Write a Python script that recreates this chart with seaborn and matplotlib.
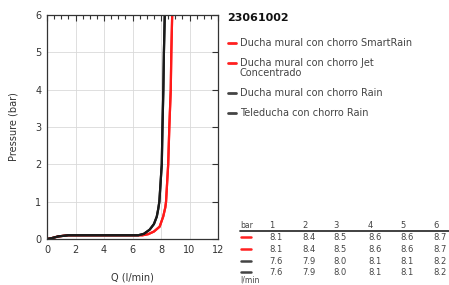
import matplotlib
matplotlib.use("Agg")
import matplotlib.pyplot as plt
from matplotlib.lines import Line2D
from matplotlib.ticker import MultipleLocator
import pandas as pd
import seaborn as sns

# Curvas (Q en l/min, presión en bar).
q_red = [0.0, 0.3, 0.8, 1.5, 6.7, 7.1, 7.5, 7.9, 8.15, 8.3, 8.35, 8.5, 8.58, 8.68, 8.72, 8.78]
p_red = [0.0, 0.02, 0.07, 0.1, 0.1, 0.13, 0.2, 0.33, 0.6, 0.85, 1.0, 2.0, 3.0, 4.0, 5.0, 6.0]
q_black = [0.0, 0.3, 0.8, 1.5, 6.4, 6.8, 7.2, 7.5, 7.7, 7.8, 7.88, 8.05, 8.1, 8.16, 8.2, 8.26]
p_black = [0.0, 0.02, 0.07, 0.1, 0.1, 0.14, 0.25, 0.4, 0.6, 0.8, 1.0, 2.0, 3.0, 4.0, 5.0, 6.0]

series_names = [
    "Ducha mural con chorro SmartRain",
    "Ducha mural con chorro Jet\nConcentrado",
    "Ducha mural con chorro Rain",
    "Teleducha con chorro Rain",
]
series_colors = ["#ff1a1a", "#ff1a1a", "#1a1a1a", "#1a1a1a"]
handle_colors = ["#ff2020", "#ff2020", "#444444", "#444444"]
series_q = [q_red, q_red, q_black, q_black]
series_p = [p_red, p_red, p_black, p_black]

title_code = "23061002"

# Tabla de caudales por presión.
table_bars = ["1", "2", "3", "4", "5", "6"]
table_values = [
    ["8.1", "8.4", "8.5", "8.6", "8.6", "8.7"],
    ["8.1", "8.4", "8.5", "8.6", "8.6", "8.7"],
    ["7.6", "7.9", "8.0", "8.1", "8.1", "8.2"],
    ["7.6", "7.9", "8.0", "8.1", "8.1", "8.2"],
]

frames = []
for nombre, q, p in zip(series_names, series_q, series_p):
    frames.append(pd.DataFrame({"Q": q, "P": p, "serie": nombre}))
df = pd.concat(frames, ignore_index=True)

sns.set_style("white")
plt.rcParams["font.family"] = ["DejaVu Sans"]

fig = plt.figure(figsize=(4.49, 2.85), dpi=100)
ax = fig.add_axes([0.1047, 0.1614, 0.381, 0.7856])

palette = dict(zip(series_names, series_colors))
sns.lineplot(data=df, x="Q", y="P", hue="serie", palette=palette,
             sort=False, estimator=None, linewidth=1.6, ax=ax, legend=False)

ax.set_xlim(0, 12)
ax.set_ylim(0, 6)
ax.xaxis.set_major_locator(MultipleLocator(2))
ax.xaxis.set_minor_locator(MultipleLocator(0.5))
ax.yaxis.set_major_locator(MultipleLocator(1))
ax.grid(True, which="major", color="#d9d9d9", linewidth=0.6)
ax.tick_params(which="both", direction="in", top=True, right=True,
               labelsize=7, colors="#333333", pad=4)
ax.tick_params(which="major", length=4, width=0.8)
ax.tick_params(which="minor", length=3, width=0.8)
for s in ax.spines.values():
    s.set_color("#333333")
    s.set_linewidth(0.9)
ax.set_xlabel("Q (l/min)", fontsize=7, color="#333333", labelpad=13)
ax.set_ylabel("Pressure (bar)", fontsize=7, color="#333333", labelpad=12)

# Leyenda a la derecha (manual)
fig.text(0.506, 0.9368, title_code, fontsize=8, weight="bold", color="#111111", va="center")
leg_y = [0.848, 0.7779, 0.6726, 0.6046]
for y, c, nombre in zip(leg_y, handle_colors, series_names):
    fig.add_artist(Line2D([0.5085, 0.5256], [y, y], color=c, linewidth=2))
    fig.text(0.5345, y + 0.018, nombre, fontsize=7, color="#444444",
             va="top", linespacing=0.95)

# Tabla inferior
col_x = [0.600, 0.6726, 0.7428, 0.8196, 0.892, 0.9644]
fig.text(0.5345, 0.2088, "bar", fontsize=5.5, color="#444444", va="center")
for x, b in zip(col_x, table_bars):
    fig.text(x, 0.2088, b, fontsize=6, color="#444444", va="center")
fig.add_artist(Line2D([0.5345, 1.0], [0.1905, 0.1905], color="#333333", linewidth=1.3))
row_y = [0.1667, 0.1246, 0.0842, 0.0439]
for y, c, vals in zip(row_y, handle_colors, table_values):
    fig.add_artist(Line2D([0.536, 0.558], [y, y], color=c, linewidth=1.8))
    for x, v in zip(col_x, vals):
        fig.text(x, y, v, fontsize=6, color="#444444", va="center")
fig.text(0.5345, 0.0158, "l/min", fontsize=5.5, color="#444444", va="center")

fig.savefig("out.png", dpi=100)
